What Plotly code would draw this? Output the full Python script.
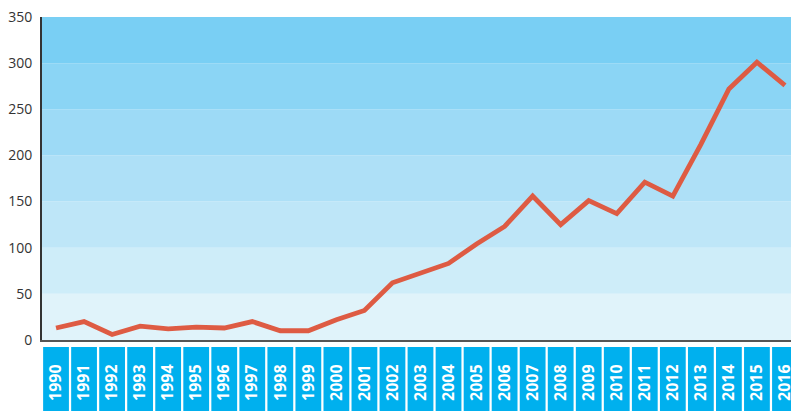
import plotly.graph_objects as go

years = [str(y) for y in range(1990, 2017)]
values = [13, 20, 6, 15, 12, 14, 13, 20, 10, 10, 22, 32, 62, 73, 83, 104, 123, 156,
          125, 151, 137, 171, 156, 212, 272, 301, 276]
band_edges = [0, 50, 100, 150, 200, 250, 300, 350]
band_colors = ["#E0F3FA", "#CEEDF9", "#BEE6F8", "#AEE0F7", "#9DDAF6", "#8BD5F5", "#79CFF4"]
y_ticks = [0, 50, 100, 150, 200, 250, 300, 350]

fig = go.Figure()
fig.add_trace(go.Scatter(x=years, y=values, mode="lines",
                         line=dict(color="#DE5B43", width=4.8), hoverinfo="x+y"))

shapes = []
for i, c in enumerate(band_colors):
    shapes.append(dict(type="rect", xref="paper", yref="y", x0=0, x1=1,
                       y0=band_edges[i], y1=band_edges[i + 1], fillcolor=c,
                       line=dict(width=0), layer="below"))
for i, yr in enumerate(years):
    shapes.append(dict(type="rect", xref="x", yref="paper", x0=i - 0.46, x1=i + 0.46,
                       y0=-0.22, y1=-0.022, fillcolor="#00B0EE", line=dict(width=0),
                       layer="below"))

# page body has an 8px default margin: figure is 8px smaller and offset
fig.update_layout(
    width=791, height=404,
    margin=dict(l=34, r=0, t=9, b=72, pad=0),
    paper_bgcolor="white", plot_bgcolor="white",
    showlegend=False,
    shapes=shapes,
    xaxis=dict(type="category", range=[-0.5, 26.5], tickvals=years,
               ticktext=["<b>" + y + "</b>" for y in years],
               tickangle=-90, ticks="", ticklabelstandoff=16, automargin=False,
               ticklabeloverflow="allow",
               tickfont=dict(family="Open Sans", size=16, color="white"),
               showgrid=False, zeroline=False, showline=True, linecolor="#555", linewidth=2),
    yaxis=dict(range=[0, 350], tickvals=y_ticks, showgrid=False, zeroline=False, automargin=False,
               showline=True, linecolor="#333", linewidth=2, ticks="",
               ticklabelstandoff=5, ticklabeloverflow="allow",
               tickfont=dict(family="Open Sans", size=14, color="#333")),
)
fig.write_html("out.html")
